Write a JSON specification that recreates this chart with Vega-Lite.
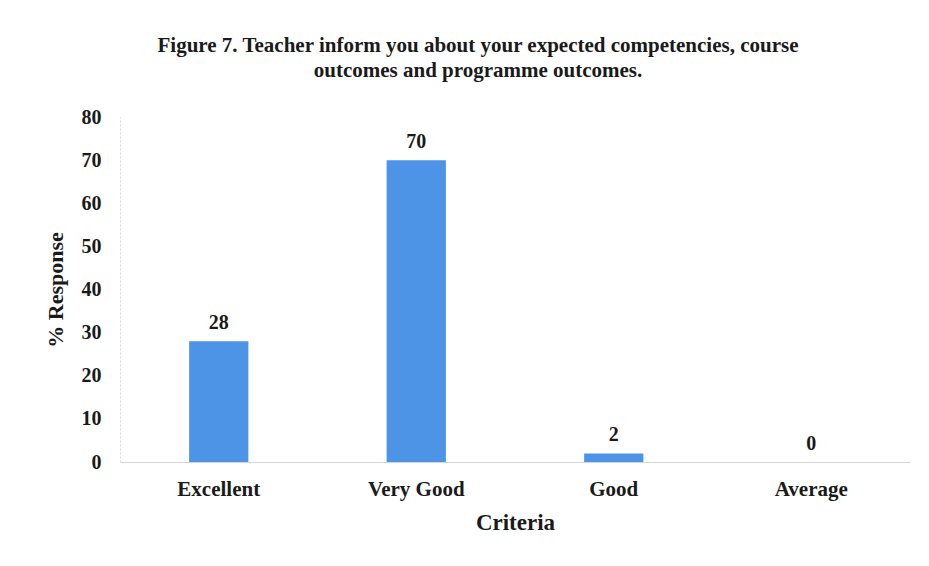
{
  "$schema": "https://vega.github.io/schema/vega-lite/v6.json",
  "width": 790,
  "height": 345,
  "autosize": "none",
  "padding": {"left": 120, "top": 117, "right": 19, "bottom": 104},
  "background": "white",
  "title": {
    "text": ["Figure 7. Teacher inform you about your expected competencies, course", "outcomes and programme outcomes."],
    "font": "Liberation Serif",
    "fontSize": 21,
    "fontWeight": "bold",
    "color": "#1a1a1a",
    "anchor": "middle",
    "dx": -37,
    "offset": 26,
    "lineHeight": 25
  },
  "data": {
    "values": [
      {"Criteria": "Excellent", "Response": 28},
      {"Criteria": "Very Good", "Response": 70},
      {"Criteria": "Good", "Response": 2},
      {"Criteria": "Average", "Response": 0}
    ]
  },
  "encoding": {
    "x": {
      "field": "Criteria",
      "type": "nominal",
      "sort": null,
      "scale": {"paddingInner": 0.7, "paddingOuter": 0.35},
      "axis": {
        "title": "Criteria",
        "labelAngle": 0,
        "labelFont": "Liberation Serif",
        "labelFontSize": 21,
        "labelFontWeight": "bold",
        "labelColor": "#1a1a1a",
        "labelPadding": 16,
        "titleFont": "Liberation Serif",
        "titleFontSize": 23,
        "titleFontWeight": "bold",
        "titleColor": "#1a1a1a",
        "titlePadding": 12,
        "ticks": false,
        "domainColor": "#d4d4d4"
      }
    },
    "y": {
      "field": "Response",
      "type": "quantitative",
      "scale": {"domain": [0, 80]},
      "axis": {
        "title": "% Response",
        "values": [0, 10, 20, 30, 40, 50, 60, 70, 80],
        "grid": false,
        "ticks": false,
        "labelFont": "Liberation Serif",
        "labelFontSize": 20,
        "labelFontWeight": "bold",
        "labelColor": "#1a1a1a",
        "labelPadding": 19,
        "titleFont": "Liberation Serif",
        "titleFontSize": 22,
        "titleFontWeight": "bold",
        "titleColor": "#1a1a1a",
        "titlePadding": 14,
        "domainColor": "#d9d9d9",
        "domainDash": [2, 2]
      }
    }
  },
  "layer": [
    {"mark": {"type": "bar", "color": "#4d93e6"}},
    {
      "mark": {"type": "text", "dy": -18, "font": "Liberation Serif", "fontSize": 20, "fontWeight": "bold", "color": "#1a1a1a"},
      "encoding": {"text": {"field": "Response", "type": "quantitative"}}
    }
  ],
  "config": {"view": {"stroke": null}}
}
